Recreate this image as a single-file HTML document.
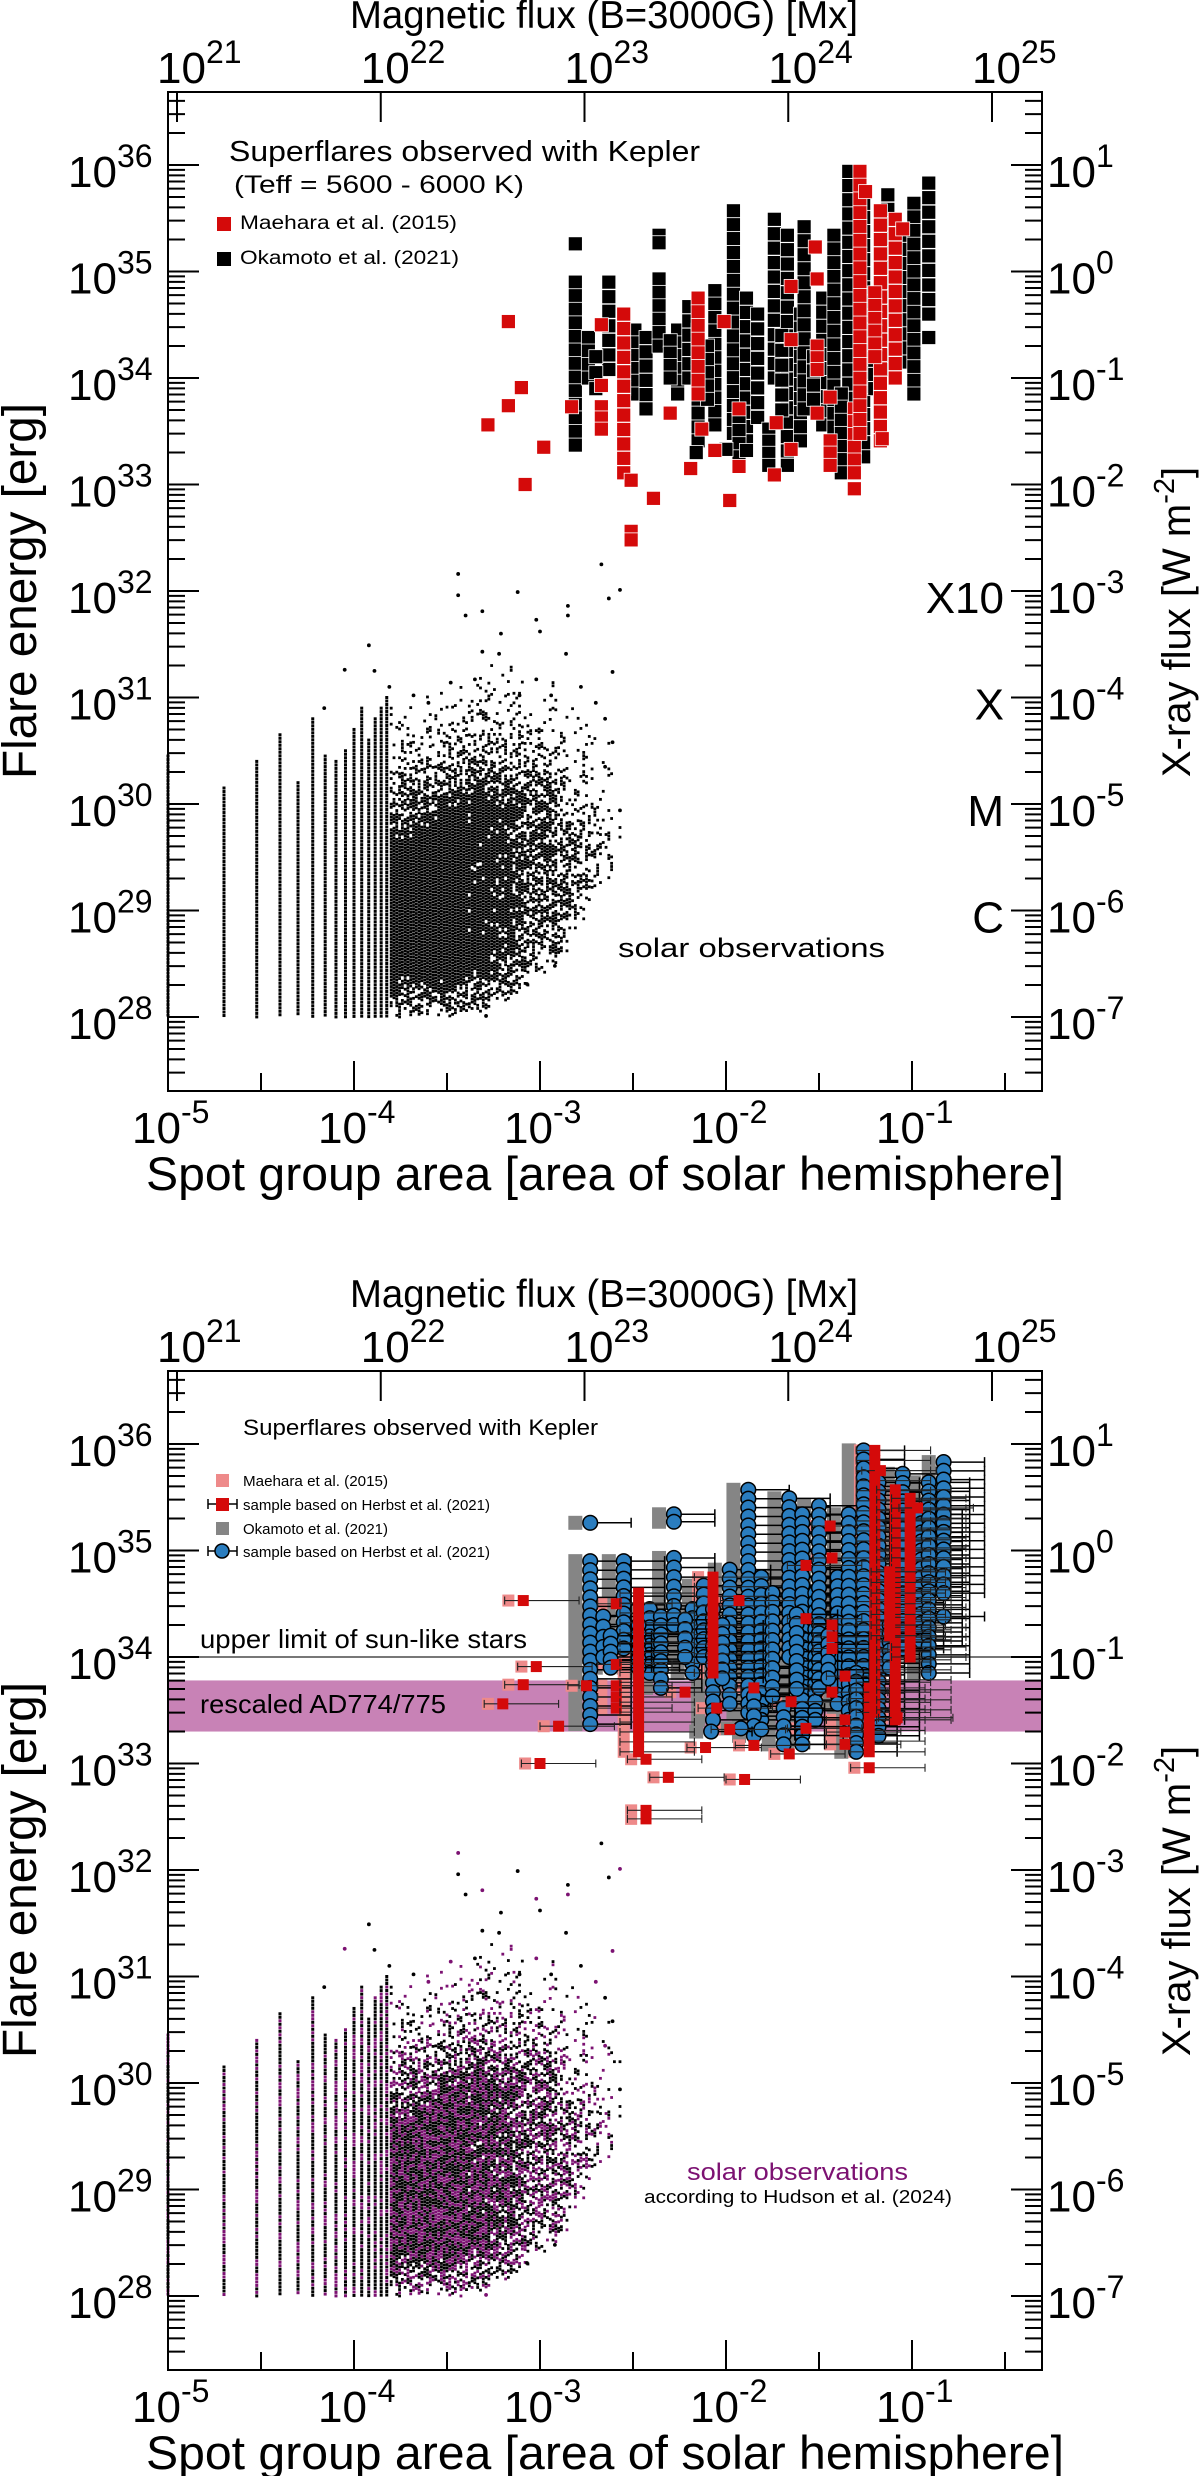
<!DOCTYPE html>
<html><head><meta charset="utf-8"><style>
html,body{margin:0;padding:0;background:#fff;}
svg{display:block;font-family:"Liberation Sans",Arial,sans-serif;}
</style></head><body>
<svg id="fig" width="1200" height="2476" viewBox="0 0 1200 2476" xmlns="http://www.w3.org/2000/svg"></svg>
<script>
// ---------- DATA ----------
const stripeK   = [1,2,3,4,5,6,7,8,9,10,11,12,13,14,15];
const stripeTop = [30.45,30.15,30.4,30.65,30.2,30.8,30.45,30.4,30.5,30.7,30.9,30.6,30.8,30.9,31.0];
const stripeBot = [28.0,28.0,28.0,28.0,28.0,28.0,28.0,28.0,28.0,28.0,28.0,28.0,28.0,28.0,28.0];
const binA   = [-3.80,-3.74,-3.68,-3.62,-3.56,-3.50,-3.44,-3.38,-3.32,-3.26,-3.20,-3.14,-3.08,-3.02,-2.96,-2.90,-2.84,-2.78,-2.72,-2.66,-2.60];
const binTop = [30.9,30.95,31.0,31.05,31.1,31.15,31.2,31.25,31.3,31.3,31.3,31.25,31.2,31.2,31.2,31.1,31.0,30.95,30.9,30.6,30.2];
const binBot = [28.0,28.0,28.0,28.0,28.0,28.0,28.0,28.05,28.05,28.1,28.15,28.2,28.3,28.4,28.5,28.6,28.8,28.9,29.1,29.3,29.6];
const binDens= [1,1,1,1,1,1,1,0.95,0.95,0.9,0.85,0.8,0.75,0.7,0.65,0.55,0.5,0.45,0.4,0.35,0.3];
const scatA = [-3.44,-3.44,-3.12,-3.31,-3.40,-3.21,-3.02,-3.00,-2.85,-2.85,-2.67,-2.63,-2.57,-3.92,-3.89,-4.05,-4.16,-2.86,-2.61,-3.22,-3.31,-3.02,-2.94,-2.78,-3.48,-3.68,-3.81,-3.60,-3.35,-3.11,-2.70,-2.65,-2.61,-2.65,-2.57,-2.92,-3.29,-3.07];
const scatE = [32.16,31.96,31.99,31.81,31.77,31.60,31.73,31.62,31.86,31.77,32.25,31.93,32.01,31.49,31.25,31.26,30.90,31.41,31.24,31.41,31.43,31.17,31.02,31.10,31.14,31.02,31.10,30.95,31.17,31.02,30.95,30.80,30.58,30.35,29.94,28.48,28.01,28.31];
const okaA   = [-2.81,-2.81,-2.74,-2.63,-2.49,-2.43,-2.36,-2.36,-2.26,-2.20,-2.15,-2.06,-1.96,-1.89,-1.83,-1.74,-1.67,-1.60,-1.58,-1.48,-1.42,-1.34,-1.26,-1.13,-1.03,-0.99,-0.91,-0.91,-1.93,-2.16,-2.00,-1.89,-1.77,-1.38,-2.55,-2.30,-2.10,-1.70,-1.53,-1.20,-2.70];
const okaMin = [33.37,35.26,34.00,34.08,33.85,33.71,35.27,34.30,33.85,34.00,33.41,33.56,33.48,33.41,33.63,34.00,33.18,33.41,33.71,33.56,33.41,33.41,33.26,34.08,34.15,33.85,34.60,34.38,33.26,33.30,33.33,33.32,33.18,33.11,33.90,34.00,33.80,33.70,33.80,33.90,33.90];
const okaMax = [34.90,35.26,34.38,34.90,34.45,34.38,35.34,34.93,34.45,34.67,34.45,34.82,35.57,34.75,34.60,35.49,35.34,34.60,35.42,34.75,35.34,35.94,35.64,35.72,35.34,35.64,35.83,34.38,33.63,33.30,33.33,33.32,33.52,33.85,34.30,34.35,34.30,34.40,34.20,34.30,34.20];
const maeA   = [-3.17,-3.28,-3.17,-3.10,-2.98,-3.08,-2.83,-2.67,-2.67,-2.67,-2.55,-2.51,-2.51,-2.39,-2.30,-2.19,-2.15,-2.13,-2.06,-2.01,-1.98,-1.93,-1.93,-1.74,-1.73,-1.65,-1.65,-1.65,-1.52,-1.51,-1.51,-1.51,-1.44,-1.44,-1.31,-1.31,-1.28,-1.25,-1.17,-1.16,-1.09,-1.05,-1.20];
const maeMin = [34.53,33.56,33.74,33.91,33.35,33.00,33.73,34.50,33.93,33.52,33.11,33.04,32.48,32.87,33.67,33.15,33.85,33.52,33.32,34.53,32.85,33.71,33.17,33.09,33.58,34.86,34.36,33.33,35.23,34.93,34.08,33.67,33.82,33.18,32.96,33.11,33.48,35.75,33.41,33.43,34.00,35.40,34.20];
const maeMax = [34.53,33.56,33.74,33.91,33.35,33.00,33.73,34.50,33.93,33.73,34.60,33.04,32.56,32.87,33.67,33.15,34.75,33.52,33.32,34.53,32.85,33.71,33.17,33.09,33.58,34.86,34.36,33.33,35.23,34.93,34.30,33.67,33.82,33.41,32.96,33.71,35.94,35.75,35.57,33.43,35.49,35.40,34.80];
const upperLimitE = [34.0];
const bandE = [33.30, 33.78];
const yDecades = [28,29,30,31,32,33,34,35,36];
const xDecades = [-5,-4,-3,-2,-1];
const fluxDecades = [21,22,23,24,25];
const goesClasses = ["C","M","X","X10"];
const goesE = [29,30,31,32];

// ---------- SCALES ----------
const NS="http://www.w3.org/2000/svg";
const svg=document.getElementById('fig');
const FL=168, FR=1042;
function xA(a){return FL+(a+5)*186;}
function yE(e,off){return 165+off+(36-e)*106.5;}
function xF(f){return 177+(f-21)*203.75;}
function hsh(i,j){const s=Math.sin(i*12.9898+j*78.233)*43758.5453;return s-Math.floor(s);}
function mk(tag,attrs,parent){const el=document.createElementNS(NS,tag);for(const k in attrs)el.setAttribute(k,attrs[k]);(parent||svg).appendChild(el);return el;}

function labelPow(g,x,y,base,exp,fs,efs,edy,anchor){
  const t=mk('text',{x:x,y:y,'font-size':fs,'text-anchor':anchor||'start',fill:'#000'},g);
  
  
  t.appendChild(document.createTextNode(base));
  const ts=mk('tspan',{'font-size':efs,dy:edy},t);
  ts.textContent=exp;
  return t;
}

function stackSquares(g,x,y1,y2,size,fill,name){
  const n=Math.max(1,Math.round((y2-y1)/size)+1);
  const step=n>1?(y2-y1)/(n-1):0;
  for(let k=0;k<n;k++){
    const y=y1+k*step;
    const r=mk('rect',{x:x-size/2,y:y-size/2,width:size,height:size,fill:fill,stroke:'#fff','stroke-width':0.8},g);
    
    
  }
}

function drawPlot(off,bottom){
  const g=mk('g',{});
  
  
  const FT=92+off, FB=1091+off;
  if(bottom){
    const band=mk('rect',{x:FL,y:yE(bandE[1],off),width:FR-FL,height:yE(bandE[0],off)-yE(bandE[1],off),fill:'#c882b6'},g);
    
    
    const ln=mk('line',{x1:FL,x2:FR,y1:yE(upperLimitE[0],off),y2:yE(upperLimitE[0],off),stroke:'#777',"stroke-width":2},g);
    
    
  }
  const sg=mk('g',{},g);
  
  
  const PUR='#7c1272';
  for(let i=0;i<stripeK.length;i++){
    const x=xA(Math.log10(stripeK[i]*1e-5));
    const y1=yE(stripeTop[i],off), y2=yE(stripeBot[i],off);
    let j=0;
    for(let y=y1;y<=y2;y+=3.5,j++){
      const col=(bottom&&hsh(i,j)<0.35)?PUR:'#000';
      const d=mk('rect',{x:x-1.5,y:y-1.5,width:3,height:3,fill:col},sg);
      
      
    }
  }
  for(let i=0;i<binA.length;i++){
    const x0=xA(binA[i]);
    const xw=186*0.06;
    for(let s=0;s<4;s++){
      const x=x0+s*xw/4;
      const y1=yE(binTop[i],off), y2=yE(binBot[i],off);
      let j=0;
      for(let y=y1+(s%2)*1.6;y<=y2;y+=3.2,j++){
        const e=36-(y-165-off)/106.5;
        let p=binDens[i];
        const dt=binTop[i]-e;
        if(dt<1.3)p*=0.04+0.96*Math.pow(dt/1.3,1.6);
        const db=e-binBot[i];
        if(db<0.4)p*=0.35+0.65*db/0.4;
        if(hsh(i*7+s,j)>=p)continue;
        const col=(bottom&&hsh(j+3,i*5+s)<0.42)?PUR:'#000';
        const d=mk('rect',{x:x-1.4,y:y-1.4,width:2.8,height:2.8,fill:col},sg);
        
        
      }
    }
  }
  for(let i=0;i<scatA.length;i++){
    const col=(bottom&&i%3===0)?PUR:'#000';
    const d=mk('circle',{cx:xA(scatA[i]),cy:yE(scatE[i],off),r:1.9,fill:col},sg);
    
    
  }
  if(!bottom){
    for(let i=0;i<okaA.length;i++){
      stackSquares(g,xA(okaA[i]),yE(okaMax[i],off),yE(okaMin[i],off),14,'#000','okamoto-superflare');
    }
    for(let i=0;i<maeA.length;i++){
      stackSquares(g,xA(maeA[i]),yE(maeMax[i],off),yE(maeMin[i],off),14,'#d40a0a','maehara-superflare');
    }
  } else {
    for(let i=0;i<okaA.length;i++){
      const x=xA(okaA[i]),y1=yE(okaMax[i],off),y2=yE(okaMin[i],off);
      const r=mk('rect',{x:x-7,y:y1-7,width:14,height:y2-y1+14,fill:'#858585'},g);
      
      
    }
    for(let i=0;i<maeA.length;i++){
      const x=xA(maeA[i]),y1=yE(maeMax[i],off),y2=yE(maeMin[i],off);
      const r=mk('rect',{x:x-6,y:y1-6,width:12,height:y2-y1+12,fill:'#ee8a8a'},g);
      
      
    }
    for(let i=0;i<okaA.length;i++){
      const a=okaA[i]+0.08, x=xA(a), xe=xA(a+0.22), xl=xA(a-0.03);
      const y1=yE(okaMax[i],off),y2=yE(okaMin[i],off);
      const n=Math.max(1,Math.round((y2-y1)/9)+1);
      const st=n>1?(y2-y1)/(n-1):0;
      for(let k=0;k<n;k++){
        const y=y1+k*st;
        const eb=mk('path',{d:`M${xl} ${y}H${xe}M${xe} ${y-5}V${y+5}`,stroke:'#000','stroke-width':1.5,fill:'none'},g);
        
        
        const c=mk('circle',{cx:x,cy:y,r:7.3,fill:'#2a7dbf',stroke:'#000','stroke-width':1.5},g);
        
        
      }
    }
    for(let i=0;i<maeA.length;i++){
      const a=maeA[i]+0.08, x=xA(a), xe=xA(a+0.3), xl=xA(a-0.1);
      const y1=yE(maeMax[i],off),y2=yE(maeMin[i],off);
      const n=Math.max(1,Math.round((y2-y1)/10)+1);
      const st=n>1?(y2-y1)/(n-1):0;
      for(let k=0;k<n;k++){
        const y=y1+k*st;
        const eb=mk('path',{d:`M${xl} ${y}H${xe}M${xe} ${y-4}V${y+4}M${xl} ${y-4}V${y+4}`,stroke:'#222','stroke-width':1.1,fill:'none'},g);
        
        
        const r=mk('rect',{x:x-5.5,y:y-5.5,width:11,height:11,fill:'#d40a0a'},g);
        
        
      }
    }
  }
  const fr=mk('rect',{x:FL,y:FT,width:FR-FL,height:FB-FT,fill:'none',stroke:'#000','stroke-width':2},g);
  
  
  let d='';
  for(let dec=27;dec<=36;dec++){
    for(let m=1;m<=9;m++){
      const e=dec+Math.log10(m); const y=yE(e,off);
      if(y<FT+1||y>FB-1)continue;
      const L=(m===1)?31:17;
      d+=`M${FL} ${y}h${L}M${FR} ${y}h${-L}`;
    }
  }
  for(let dec=-5;dec<=-1;dec++){
    d+=`M${xA(dec)} ${FB}v-30`;
    const xh=xA(dec+0.5); if(xh<FR) d+=`M${xh} ${FB}v-18`;
  }
  for(const f of fluxDecades){d+=`M${xF(f)} ${FT}v30`;}
  const tk=mk('path',{d:d,stroke:'#000','stroke-width':2,fill:'none'},g);
  
  
  for(const e of yDecades){
    labelPow(g,68,yE(e,off)+22,'10',String(e),44,32,-20);
    labelPow(g,1047,yE(e,off)+22,'10',String(e-35),44,32,-20);
  }
  for(const a of xDecades){ labelPow(g,xA(a)-36,1143+off,'10',String(a),44,32,-20); }
  for(const f of fluxDecades){ labelPow(g,xF(f)-20,83+off,'10',String(f),44,32,-20); }
  if(!bottom){
    for(let i=0;i<goesClasses.length;i++){
      const t=mk('text',{x:1004,y:yE(goesE[i],off)+22,'font-size':44,'text-anchor':'end'},g);
      
      
      t.textContent=goesClasses[i];
    }
  }
  const tt=mk('text',{x:604,y:28+off,'font-size':39,'text-anchor':'middle',textLength:508,lengthAdjust:'spacingAndGlyphs'},g);
  
  
  tt.textContent='Magnetic flux (B=3000G) [Mx]';
  const xt=mk('text',{x:605,y:1190+off,'font-size':47,'text-anchor':'middle',textLength:918,lengthAdjust:'spacingAndGlyphs'},g);
  
  
  xt.textContent='Spot group area [area of solar hemisphere]';
  const yt=mk('text',{x:0,y:0,'font-size':48,'text-anchor':'middle',textLength:376,lengthAdjust:'spacingAndGlyphs',transform:`translate(36,${591+off}) rotate(-90)`},g);
  
  
  yt.textContent='Flare energy [erg]';
  const rt=mk('text',{x:0,y:0,'font-size':40,'text-anchor':'middle',transform:`translate(1190,${622+off}) rotate(-90)`},g);
  
  
  rt.appendChild(document.createTextNode('X-ray flux [W m'));
  const sup=mk('tspan',{'font-size':29,dy:-16},rt); sup.textContent='-2';
  const cl=mk('tspan',{dy:16},rt); cl.textContent=']';
  return g;
}

function txt(g,x,y,fs,s,name,fill,len){
  const a={x:x,y:y,'font-size':fs,fill:fill||'#000'};
  if(len){a.textLength=len;a.lengthAdjust='spacingAndGlyphs';}
  const t=mk('text',a,g);
  
  
  t.textContent=s;
  return t;
}

const g1=drawPlot(0,false);
txt(g1,229,161,29,'Superflares observed with Kepler','legend-title',null,471);
txt(g1,234,193,25,'(Teff  =  5600  -  6000  K)','legend-subtitle',null,290);
let s=mk('rect',{x:217,y:217,width:14,height:14,fill:'#d40a0a'},g1);


txt(g1,240,229,19,'Maehara  et  al.  (2015)','legend-entry-maehara',null,217);
s=mk('rect',{x:217,y:252,width:14,height:14,fill:'#000'},g1);


txt(g1,240,264,19,'Okamoto  et  al.  (2021)','legend-entry-okamoto',null,219);
txt(g1,618,957,27,'solar  observations','solar-observations-label',null,267);

const OFF=1279;
const g2=drawPlot(OFF,true);
txt(g2,243,1435,22,'Superflares observed with Kepler','legend-title',null,355);
s=mk('rect',{x:216,y:1474,width:13,height:13,fill:'#ee8a8a'},g2);


txt(g2,243,1486,15,'Maehara et al. (2015)','legend-entry-maehara',null,145);
s=mk('path',{d:'M208 1504H237M208 1499V1509M237 1499V1509',stroke:'#000','stroke-width':1.5,fill:'none'},g2);


s=mk('rect',{x:216,y:1498,width:13,height:13,fill:'#d40a0a'},g2);


txt(g2,243,1510,15,'sample based on Herbst et al. (2021)','legend-entry-herbst-red',null,247);
s=mk('rect',{x:216,y:1522,width:13,height:13,fill:'#858585'},g2);


txt(g2,243,1534,15,'Okamoto et al. (2021)','legend-entry-okamoto',null,145);
s=mk('path',{d:'M208 1551H237M208 1546V1556M237 1546V1556',stroke:'#000','stroke-width':1.5,fill:'none'},g2);


s=mk('circle',{cx:222,cy:1551,r:7,fill:'#2a7dbf',stroke:'#000','stroke-width':1.5},g2);


txt(g2,243,1557,15,'sample based on Herbst et al. (2021)','legend-entry-herbst-blue',null,247);
txt(g2,200,1648,26,'upper limit of sun-like  stars','upper-limit-label',null,327);
txt(g2,200,1713,26,'rescaled  AD774/775','ad774-label',null,246);
txt(g2,687,2180,24,'solar  observations','solar-observations-label','#7c1272',221);
txt(g2,644,2203,18,'according to Hudson et al. (2024)','solar-source-label',null,308);
</script>
</body></html>
